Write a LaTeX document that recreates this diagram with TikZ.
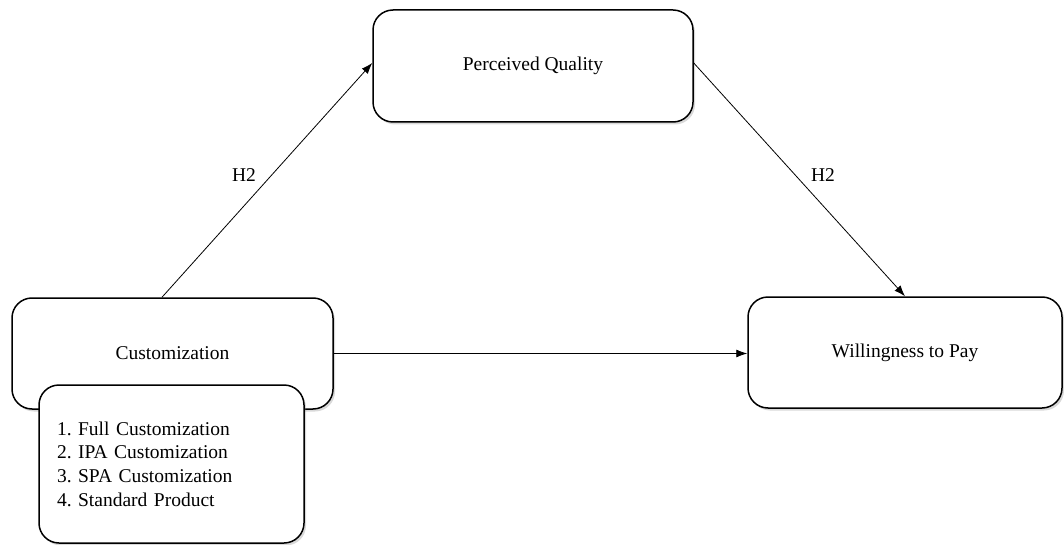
\documentclass[tikz,border=0pt]{standalone}
\usepackage{fontspec}
\setmainfont{Liberation Serif}
\frenchspacing
\usetikzlibrary{arrows.meta,shadows,calc}
\begin{document}
\begin{tikzpicture}[x=1pt,y=-1pt,
  box/.style={draw=black, line width=1.5pt, fill=white, rounded corners=20pt,
    drop shadow={shadow xshift=2pt, shadow yshift=-2.5pt, opacity=0.3},
    font=\fontsize{19.5}{23.7}\selectfont, inner sep=0pt},
  arr/.style={draw=black, line width=0.8pt, -{Latex[length=11pt,width=8pt]}},
  lbl/.style={font=\fontsize{19.5}{23.7}\selectfont, inner sep=0pt}]
\useasboundingbox (0,0) rectangle (1064,545);
% constructs
\node[box, minimum width=320pt, minimum height=112pt] (pq) at (533,66) {Perceived Quality};
\node[box, minimum width=321pt, minimum height=111pt] (cust) at (172.5,353.5) {Customization};
\node[box, minimum width=265pt, minimum height=158pt, text width=229pt,
  inner xsep=18pt, align=left] (levels) at (171.5,464)
  {\frenchspacing 1. Full Customization\\2. IPA Customization\\3. SPA Customization\\4. Standard Product};
\node[box, minimum width=314pt, minimum height=111pt] (wtp) at (905,352.5) {Willingness to Pay};
% paths
\draw[arr] ([xshift=-10.5pt]cust.north) -- ([yshift=3pt]pq.west);
\draw[arr] ([yshift=3pt]pq.east) -- (wtp.north);
\draw[arr] (cust.east) -- (cust.east -| wtp.west);
% hypothesis labels
\node[lbl] (h2a) at (244,175) {H2};
\node[lbl] (h2b) at (823,175) {H2};
\end{tikzpicture}
\end{document}
